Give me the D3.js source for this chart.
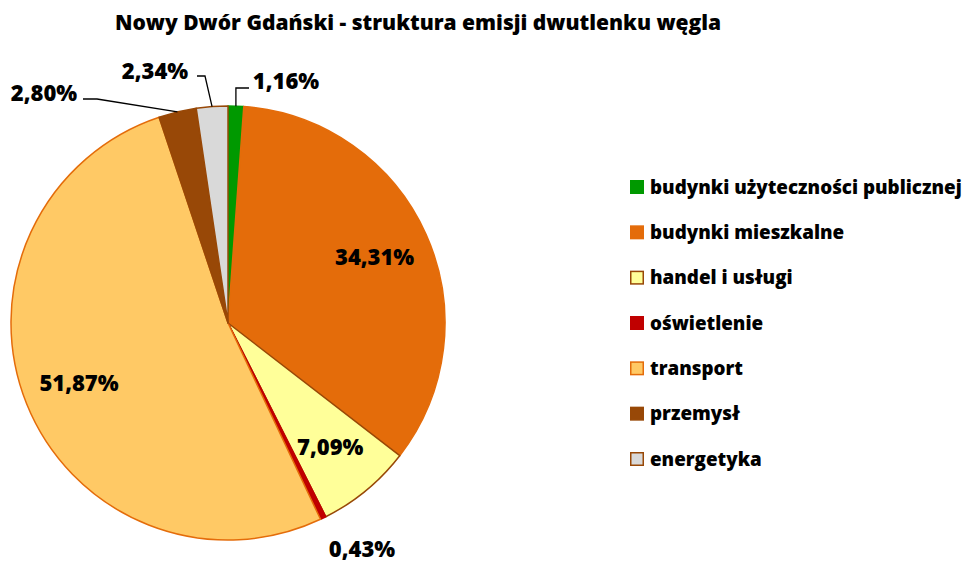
<!DOCTYPE html>
<html>
<head>
<meta charset="utf-8">
<script src="https://cdn.jsdelivr.net/npm/d3@7"></script>
<style>
  body { margin: 0; background: #fff; }
  text { font-family: "Open Sans", Lato, sans-serif; font-weight: 800; fill: #000; }
</style>
</head>
<body>
<svg id="chart" width="971" height="563"></svg>
<script>
// slices, clockwise from 12 o'clock
var categories = ["budynki użyteczności publicznej", "budynki mieszkalne", "handel i usługi",
                  "oświetlenie", "transport", "przemysł", "energetyka"];
var values = [1.16, 34.31, 7.09, 0.43, 51.87, 2.80, 2.34];
var labels = ["1,16%", "34,31%", "7,09%", "0,43%", "51,87%", "2,80%", "2,34%"];
var fills = ["#009900", "#E46C0A", "#FFFF99", "#C00000", "#FFC965", "#984807", "#D9D9D9"];
var strokes = ["#009900", "#E46C0A", "#984807", "#C00000", "#E46C0A", "#984807", "#984807"];

var svg = d3.select("#chart");
var cx = 228, cy = 323, R = 217;

svg.append("text")
    .attr("x", 418).attr("y", 30)
    .attr("text-anchor", "middle")
    .style("font-size", "21px")
    .text("Nowy Dwór Gdański - struktura emisji dwutlenku węgla");

var pie = d3.pie().sort(null).value(function(d) { return d; });
var arcs = pie(values);
var arc = d3.arc().innerRadius(0).outerRadius(R);

var g = svg.append("g").attr("transform", "translate(" + cx + "," + cy + ")");

g.selectAll("path.slice")
    .data(arcs)
  .enter().append("path")
    .attr("class", "slice")
    .attr("d", arc)
    .attr("fill", function(d, i) { return fills[i]; })
    .attr("stroke", function(d, i) { return strokes[i]; })
    .attr("stroke-width", 1.5)
    .attr("stroke-linejoin", "round");

// point on the rim at the slice's middle angle
function rim(d, r) {
  var a = (d.startAngle + d.endAngle) / 2;
  return [Math.sin(a) * r, -Math.cos(a) * r];
}

// inside labels sit at 0.74 R, the small slices get pulled out with a leader
var outside = {
  0: {x: 58, y: -242, elbow: "up"},     // 1,16%
  3: {x: 134, y: 226, elbow: null},     // 0,43%
  5: {x: -184, y: -230, elbow: [-131, -224]}, // 2,80%
  6: {x: -73, y: -252, elbow: [-23, -247]}    // 2,34%
};

arcs.forEach(function(d, i) {
  var o = outside[i];
  var p;
  if (!o) {
    p = rim(d, R * 0.74);
  } else {
    p = [o.x, o.y];
    var e = rim(d, R);
    if (o.elbow === "up") {
      g.append("polyline")
        .attr("points", [[e[0], e[1]], [e[0], p[1] + 7], [p[0] - 37, p[1] + 7]].join(" "))
        .attr("fill", "none").attr("stroke", "#000").attr("stroke-width", 1.3);
    } else if (o.elbow) {
      var endx = i === 5 ? o.elbow[0] - 14 : o.elbow[0] - 8;
      g.append("polyline")
        .attr("points", [[e[0], e[1]], o.elbow, [endx, o.elbow[1]]].join(" "))
        .attr("fill", "none").attr("stroke", "#000").attr("stroke-width", 1.3);
    }
  }
  g.append("text")
    .attr("x", p[0]).attr("y", p[1])
    .attr("dy", "0.36em")
    .attr("text-anchor", "middle")
    .style("font-size", "22px")
    .text(labels[i]);
});

// legend
var ly = d3.scalePoint().domain(categories).range([187, 459]);
var leg = svg.selectAll("g.leg")
    .data(categories)
  .enter().append("g")
    .attr("class", "leg")
    .attr("transform", function(d) { return "translate(630," + ly(d) + ")"; });

leg.append("rect")
    .attr("x", 0.75).attr("y", -6.25)
    .attr("width", 12.5).attr("height", 12.5)
    .attr("fill", function(d, i) { return fills[i]; })
    .attr("stroke", function(d, i) { return strokes[i]; })
    .attr("stroke-width", 1.5);

leg.append("text")
    .attr("x", 20).attr("y", 0)
    .attr("dy", "0.36em")
    .style("font-size", "18.8px")
    .text(function(d) { return d; });
</script>
</body>
</html>
